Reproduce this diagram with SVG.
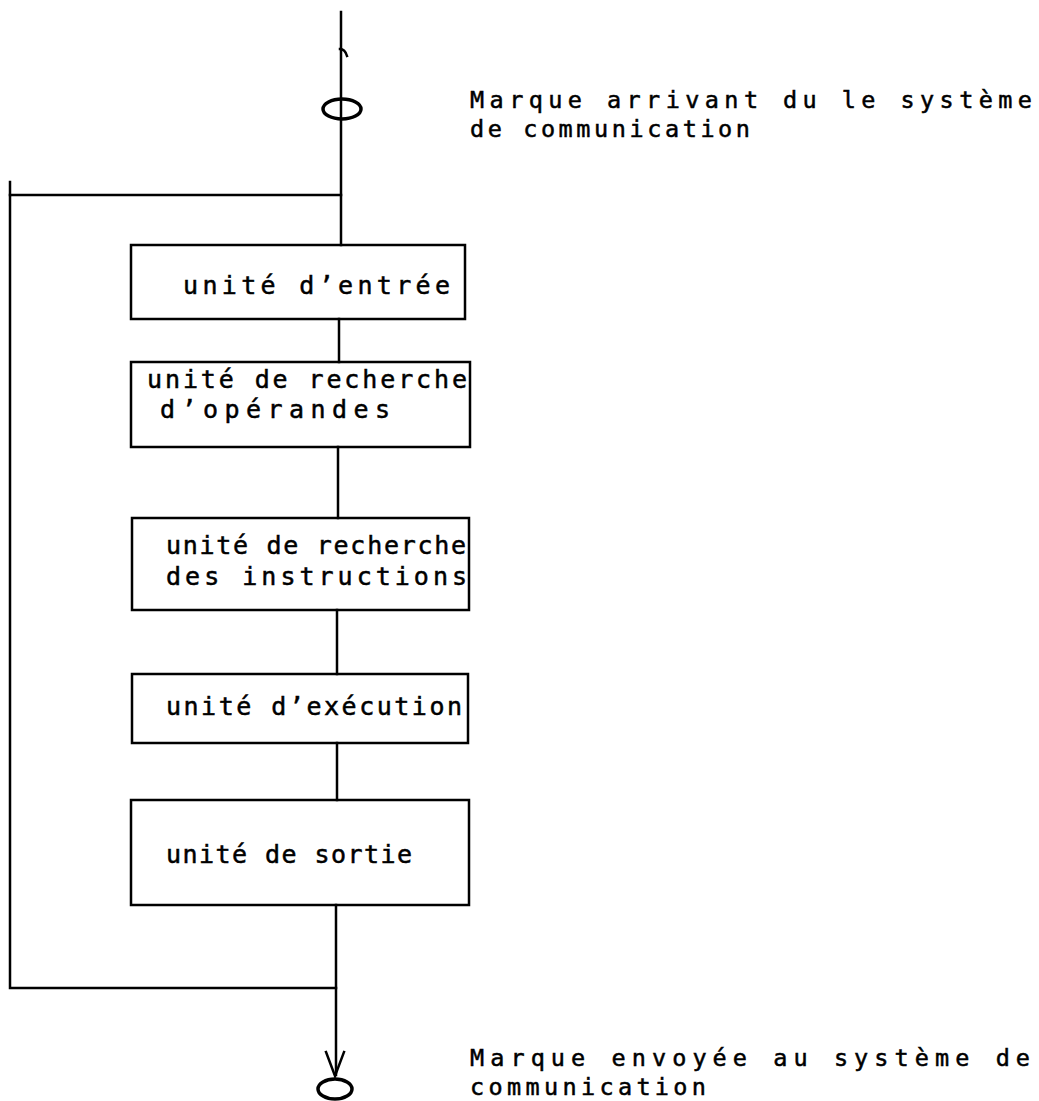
<svg xmlns="http://www.w3.org/2000/svg" width="1039" height="1101" viewBox="0 0 1039 1101">
<style>
.ln{stroke:#000;stroke-width:2.5;fill:none;stroke-linecap:square}
.bx{stroke:#000;stroke-width:2.5;fill:none}
.el{stroke:#000;stroke-width:3.5;fill:none}
.t{font-family:"DejaVu Sans Mono","Liberation Mono",monospace;font-size:25px;fill:#000;stroke:#000;stroke-width:0.5}
.s{font-size:23.5px}
</style>
<rect width="1039" height="1101" fill="#fff"/>
<g id="connectors">
<path class="ln" d="M341 12 V245"/>
<path class="ln" d="M340 49 q5 0 7 7"/>
<path class="ln" d="M339 319 V362"/>
<path class="ln" d="M338 447 V518"/>
<path class="ln" d="M337 610 V674"/>
<path class="ln" d="M337 743 V800"/>
<path class="ln" d="M336 905 V1075"/>
<path class="ln" d="M341 195 H10 V988 H336"/>
<path class="ln" d="M10 182 V195"/>
<path class="ln" d="M326 1052 L335 1076 L344 1052"/>
</g>
<g id="token-in">
<ellipse class="el" cx="342" cy="109" rx="19" ry="10"/>
<text class="t s" x="470" y="108" textLength="562" lengthAdjust="spacing">Marque arrivant du le système</text>
<text class="t s" x="470" y="137" textLength="280" lengthAdjust="spacing">de communication</text>
</g>
<g id="unite-entree">
<rect class="bx" x="131" y="245" width="334" height="74"/>
<text class="t" x="183" y="294" textLength="267" lengthAdjust="spacing">unité d’entrée</text>
</g>
<g id="unite-operandes">
<rect class="bx" x="131" y="362" width="339" height="85"/>
<text class="t" x="147" y="388" textLength="320" lengthAdjust="spacing">unité de recherche</text>
<text class="t" x="160" y="418" textLength="230" lengthAdjust="spacing">d’opérandes</text>
</g>
<g id="unite-instructions">
<rect class="bx" x="132" y="518" width="337" height="92"/>
<text class="t" x="166" y="554" textLength="300" lengthAdjust="spacing">unité de recherche</text>
<text class="t" x="166" y="585" textLength="301" lengthAdjust="spacing">des instructions</text>
</g>
<g id="unite-execution">
<rect class="bx" x="132" y="674" width="336" height="69"/>
<text class="t" x="166" y="715" textLength="296" lengthAdjust="spacing">unité d’exécution</text>
</g>
<g id="unite-sortie">
<rect class="bx" x="131" y="800" width="338" height="105"/>
<text class="t" x="166" y="863" textLength="246" lengthAdjust="spacing">unité de sortie</text>
</g>
<g id="token-out">
<ellipse class="el" cx="335" cy="1089" rx="17" ry="10"/>
<text class="t s" x="470" y="1066" textLength="560" lengthAdjust="spacing">Marque envoyée au système de</text>
<text class="t s" x="470" y="1095" textLength="236" lengthAdjust="spacing">communication</text>
</g>
</svg>
